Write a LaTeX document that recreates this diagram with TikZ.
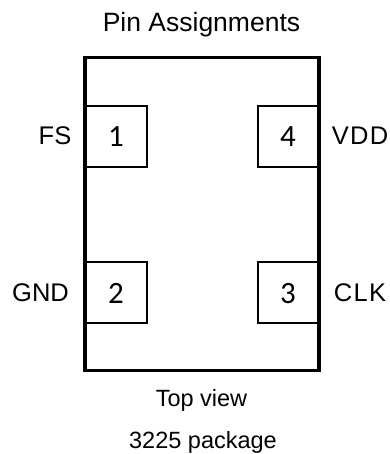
\documentclass[tikz,border=0pt]{standalone}
\usepackage{fontspec}
\setmainfont{Liberation Sans}
\newfontfamily\digitfont{Carlito}
\newfontfamily\widefont[LetterSpace=5]{Liberation Sans}
\begin{document}
\begin{tikzpicture}[x=1pt,y=-1pt,
  pkgbox/.style={draw=black,line width=3.5pt,fill=white},
  pinbox/.style={draw=black,line width=2pt,fill=white,minimum width=61pt,minimum height=61pt,inner sep=0pt},
  digittext/.style={inner sep=0pt,anchor=base,font=\digitfont\fontsize{31}{31}\selectfont},
  lbl/.style={inner sep=0pt,anchor=base,font=\fontsize{25.5}{30}\selectfont},
  widelbl/.style={inner sep=0pt,anchor=base,font=\widefont\fontsize{25.5}{30}\selectfont},
  titletext/.style={inner sep=0pt,anchor=base,font=\fontsize{26.5}{30}\selectfont},
  captext/.style={inner sep=0pt,anchor=base,font=\fontsize{23.5}{28}\selectfont}]
\useasboundingbox (0,0) rectangle (389,454);
\fill[white] (0,0) rectangle (389,454);
\draw[pkgbox] (85,57.5) rectangle (319,370.5);
\node[pinbox] (p1) at (116,136.5) {};
\node[pinbox] (p4) at (288,136.5) {};
\node[pinbox] (p2) at (116,292.5) {};
\node[pinbox] (p3) at (288,292.5) {};
\node[digittext] (d1) at (116,146.7) {1};
\node[digittext] (d4) at (288,146.7) {4};
\node[digittext] (d2) at (116,303.2) {2};
\node[digittext] (d3) at (288,303.2) {3};
\draw[line width=3.5pt] (85,57.5) -- (85,370.5) (319,57.5) -- (319,370.5);
\node[titletext] (t) at (201.5,32) {Pin Assignments};
\node[lbl] (fs) at (55,145) {FS};
\node[widelbl] (vdd) at (360,145) {VDD};
\node[lbl] (gnd) at (40.5,301) {GND};
\node[widelbl] (clk) at (360,301) {CLK};
\node[captext] (tv) at (201.5,406) {Top view};
\node[captext] (pk) at (203,448.5) {3225 package};
\end{tikzpicture}
\end{document}
